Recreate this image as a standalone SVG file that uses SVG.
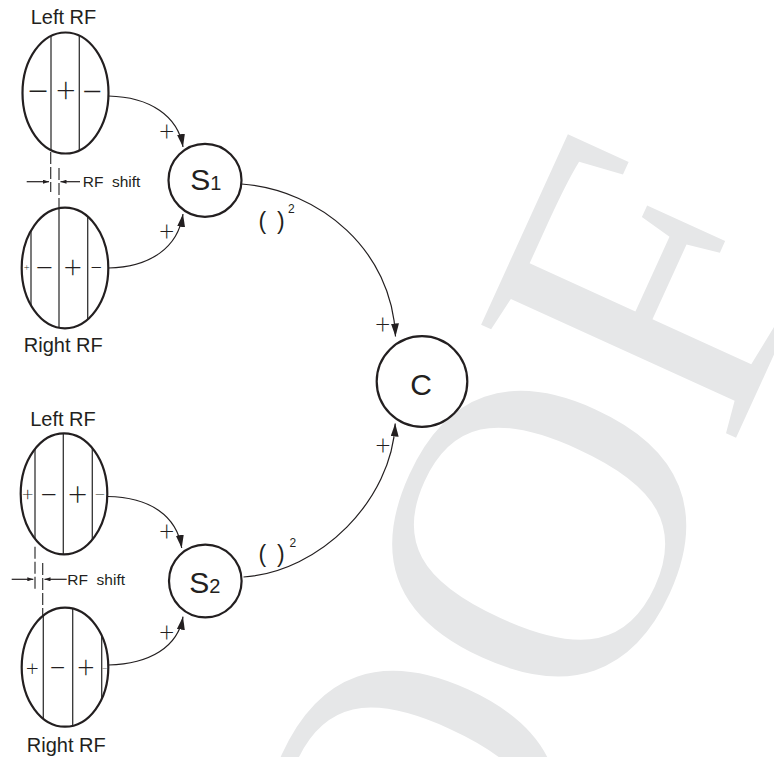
<svg xmlns="http://www.w3.org/2000/svg" width="774" height="757" viewBox="0 0 774 757">
  <style>
    .ell{fill:none;stroke:#231f20;stroke-width:2.2}
    .node{fill:#fff;stroke:#231f20;stroke-width:2.2}
    .vl{stroke:#333;stroke-width:1.3}
    .dash{stroke:#333;stroke-width:1.2;stroke-dasharray:12 3;fill:none}
    .ln{stroke:#231f20;stroke-width:1.2;fill:none}
    .lbl{font-family:"Liberation Sans",Arial,sans-serif;fill:#231f20}
    .pm{font-family:Lato,"Liberation Sans",sans-serif;font-weight:300;fill:#231f20;text-anchor:middle}
    .wm{font-family:"Liberation Serif","Times New Roman",serif;font-size:426px;fill:#e6e7e8}
  </style>
  <defs>
    <marker id="arrL" markerUnits="userSpaceOnUse" markerWidth="14" markerHeight="8" refX="13" refY="4" orient="auto">
      <path d="M0,0 L13,4 L0,8 z" fill="#231f20"/>
    </marker>
    <marker id="arrS" markerUnits="userSpaceOnUse" markerWidth="7" markerHeight="4" refX="6" refY="2" orient="auto">
      <path d="M0,0 L6,2 L0,4 z" fill="#231f20"/>
    </marker>
    <clipPath id="c1"><ellipse cx="65.5" cy="93" rx="43" ry="60.5"/></clipPath>
    <clipPath id="c2"><ellipse cx="65" cy="268" rx="43.3" ry="60.3"/></clipPath>
    <clipPath id="c3"><ellipse cx="64" cy="493.8" rx="43.3" ry="60.5"/></clipPath>
    <clipPath id="c4"><ellipse cx="65" cy="667.2" rx="43.3" ry="59.5"/></clipPath>
  </defs>

  <g id="watermark">
    <text class="wm" transform="translate(258.6,1485.5) rotate(-65.5)">PROOF</text>
  </g>

  <g id="connectors">
    <path class="ln" d="M108.5,96 C150,97 178,116 183,147" marker-end="url(#arrL)"/>
    <path class="ln" d="M108.5,268 C150,267 178,248 183,214" marker-end="url(#arrL)"/>
    <path class="ln" d="M241.5,184 C320,190 392,250 395.5,336.5" marker-end="url(#arrL)"/>
    <path class="ln" d="M243.5,577 C320,572 392,500 395.2,423.5" marker-end="url(#arrL)"/>
    <path class="ln" d="M107.5,496.5 C150,497 177,516 181.7,548" marker-end="url(#arrL)"/>
    <path class="ln" d="M108.5,665 C150,664 178,647 183,616.7" marker-end="url(#arrL)"/>
    <g class="pm" style="font-size:26.5px">
      <text x="166.7" y="141.3">+</text>
      <text x="166.7" y="240.7">+</text>
      <text x="382.7" y="334">+</text>
      <text x="383" y="455">+</text>
      <text x="166.7" y="541.3">+</text>
      <text x="166.7" y="641.7">+</text>
    </g>
    <g class="lbl">
      <text x="258.5" y="228.5" style="font-size:23px">(</text>
      <text x="277.1" y="228.5" style="font-size:23px">)</text>
      <text x="288" y="212.7" style="font-size:12px">2</text>
      <text x="258.5" y="561.9" style="font-size:23px">(</text>
      <text x="277.1" y="561.9" style="font-size:23px">)</text>
      <text x="289.6" y="546.7" style="font-size:12px">2</text>
    </g>
  </g>

  <g id="rf-left-1">
    <text class="lbl" x="63.5" y="24" style="font-size:20px;text-anchor:middle">Left RF</text>
    <g clip-path="url(#c1)">
      <line class="vl" x1="51" y1="20" x2="51" y2="170"/>
      <line class="vl" x1="79.3" y1="20" x2="79.3" y2="170"/>
    </g>
    <ellipse class="ell" cx="65.5" cy="93" rx="43" ry="60.5"/>
    <text class="pm" x="38" y="105.4" style="font-size:40.7px">−</text>
    <text class="pm" x="65.7" y="103.2" style="font-size:34.6px">+</text>
    <text class="pm" x="92.2" y="104.7" style="font-size:38.7px">−</text>
  </g>

  <g id="rf-shift-1">
    <line class="dash" x1="50.7" y1="152" x2="50.7" y2="192"/>
    <line class="dash" x1="59" y1="168" x2="59" y2="208"/>
    <line class="ln" x1="26.7" y1="181.7" x2="49" y2="181.7" marker-end="url(#arrS)"/>
    <line class="ln" x1="80" y1="181.7" x2="60.5" y2="181.7" marker-end="url(#arrS)"/>
    <text class="lbl" x="82.7" y="186.7" style="font-size:15.5px" xml:space="preserve">RF  shift</text>
  </g>

  <g id="rf-right-1">
    <g clip-path="url(#c2)">
      <line class="vl" x1="31" y1="200" x2="31" y2="340"/>
      <line class="vl" x1="59" y1="200" x2="59" y2="340"/>
      <line class="vl" x1="87.7" y1="200" x2="87.7" y2="340"/>
    </g>
    <ellipse class="ell" cx="65" cy="268" rx="43.3" ry="60.3"/>
    <text class="pm" x="26.7" y="271.1" style="font-size:10.2px">+</text>
    <text class="pm" x="44.3" y="279" style="font-size:34px">−</text>
    <text class="pm" x="72.7" y="278.3" style="font-size:32px">+</text>
    <text class="pm" x="96.2" y="275" style="font-size:22.4px">−</text>
    <text class="lbl" x="63.3" y="351.7" style="font-size:20px;text-anchor:middle">Right RF</text>
  </g>

  <g id="s1">
    <circle class="node" cx="205" cy="180.3" r="36.5"/>
    <text class="lbl" x="190.2" y="190" style="font-size:30px">S<tspan style="font-size:20px">1</tspan></text>
  </g>

  <g id="c">
    <circle class="node" cx="422" cy="381.5" r="45.3"/>
    <text class="lbl" x="421" y="395" style="font-size:30px;text-anchor:middle">C</text>
  </g>

  <g id="rf-left-2">
    <text class="lbl" x="63" y="425.7" style="font-size:20px;text-anchor:middle">Left RF</text>
    <g clip-path="url(#c3)">
      <line class="vl" x1="35" y1="420" x2="35" y2="570"/>
      <line class="vl" x1="63.3" y1="420" x2="63.3" y2="570"/>
      <line class="vl" x1="92.3" y1="420" x2="92.3" y2="570"/>
    </g>
    <ellipse class="ell" cx="64" cy="493.8" rx="43.3" ry="60.5"/>
    <text class="pm" x="27.7" y="501" style="font-size:20.4px">+</text>
    <text class="pm" x="48.8" y="504.8" style="font-size:32px">−</text>
    <text class="pm" x="77.7" y="505.6" style="font-size:34px">+</text>
    <text class="pm" x="100" y="501" style="font-size:20.4px">−</text>
  </g>

  <g id="rf-shift-2">
    <line class="dash" x1="35" y1="546.7" x2="35" y2="590"/>
    <line class="dash" x1="42.7" y1="563" x2="42.7" y2="616"/>
    <line class="ln" x1="11.7" y1="579.3" x2="33.3" y2="579.3" marker-end="url(#arrS)"/>
    <line class="ln" x1="66.7" y1="579.3" x2="44.5" y2="579.3" marker-end="url(#arrS)"/>
    <text class="lbl" x="67.3" y="585" style="font-size:15.5px" xml:space="preserve">RF  shift</text>
  </g>

  <g id="s2">
    <circle class="node" cx="205.3" cy="581" r="36.3"/>
    <text class="lbl" x="189.2" y="593.3" style="font-size:30px">S<tspan style="font-size:20px">2</tspan></text>
  </g>

  <g id="rf-right-2">
    <g clip-path="url(#c4)">
      <line class="vl" x1="43.3" y1="600" x2="43.3" y2="740"/>
      <line class="vl" x1="72.7" y1="600" x2="72.7" y2="740"/>
      <line class="vl" x1="101.7" y1="600" x2="101.7" y2="740"/>
    </g>
    <ellipse class="ell" cx="65" cy="667.2" rx="43.3" ry="59.5"/>
    <text class="pm" x="32.2" y="675.6" style="font-size:22.4px">+</text>
    <text class="pm" x="57.5" y="678.4" style="font-size:30.5px">−</text>
    <text class="pm" x="85.8" y="678.4" style="font-size:30.5px">+</text>
    <text class="pm" x="104.8" y="671.5" style="font-size:10.2px">−</text>
    <text class="lbl" x="66.3" y="751.7" style="font-size:20px;text-anchor:middle">Right RF</text>
  </g>
</svg>
